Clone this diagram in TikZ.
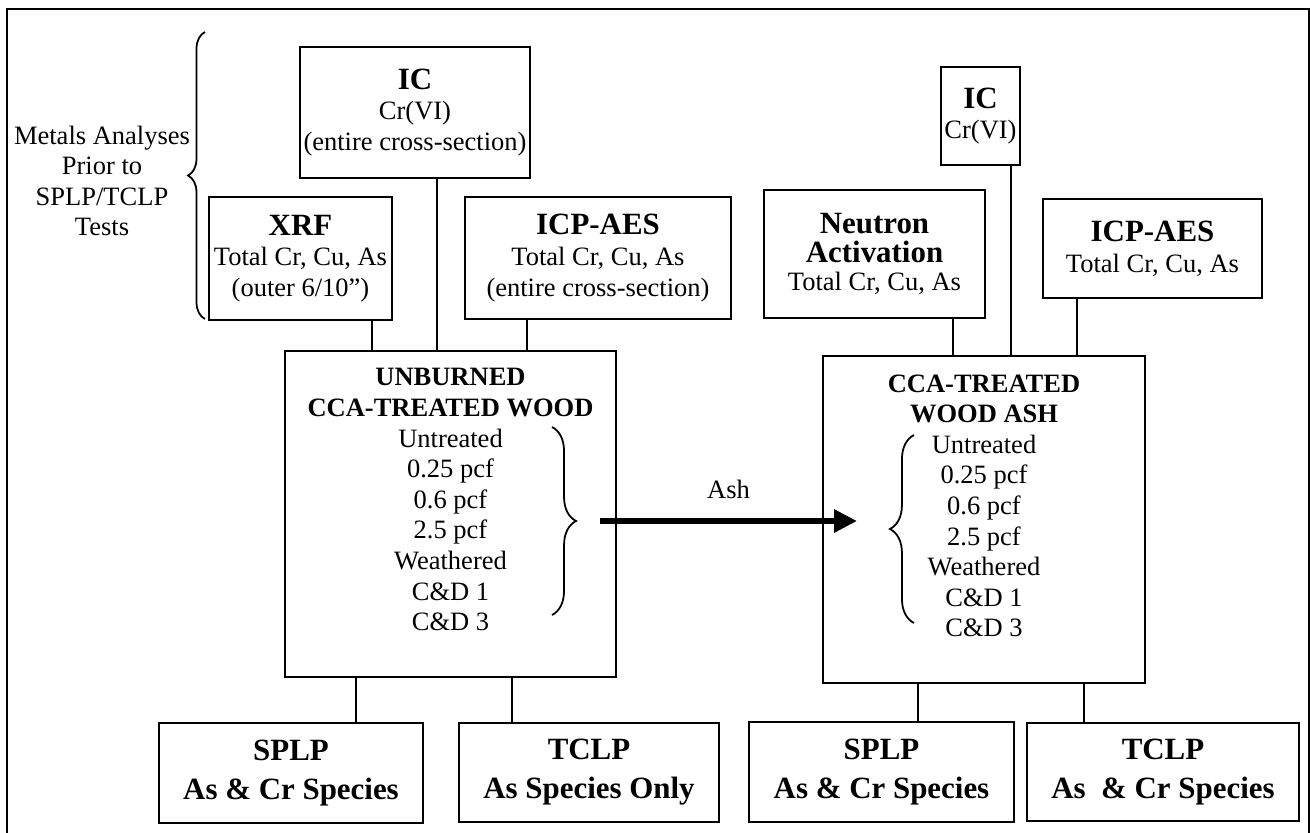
\documentclass[tikz,border=0pt]{standalone}
\usepackage{fontspec}
\setmainfont{Liberation Serif}
\usetikzlibrary{arrows.meta, decorations.pathreplacing}

% one unit = one pixel of the layout grid
\newcommand{\pxl}{0.4528pt}
\newcommand{\boxhead}[1]{{\fontsize{14}{16}\selectfont\bfseries #1}}

\begin{document}
\begin{tikzpicture}[x=\pxl, y=-\pxl, >={Triangle[length=10.4pt, width=10pt]},
    every node/.style={font=\fontsize{12}{13.86}\selectfont, align=center, inner sep=0pt},
    testbox/.style={draw, line width=0.9pt},
    wh/.style 2 args={minimum width=#1*\pxl, minimum height=#2*\pxl},
    leachbox/.style={testbox, font=\fontsize{14}{17.7}\selectfont\bfseries},
    wire/.style={line width=0.75pt},
    curly/.style={decorate, decoration={brace, amplitude=#1}, line width=0.8pt}]
    \useasboundingbox (0,0) rectangle (1310,832);
    \draw[line width=0.9pt] (7,9) rectangle (1309,845);

    % metals analyses before leaching
    \node (metals) at (102,181) {Metals Analyses\\Prior to\\SPLP/TCLP\\Tests};
    \draw[curly=7.7pt] (205,319) -- (205,32);

    \node[testbox, wh={230}{131}] (icA) at (415,112.5) {\boxhead{IC}\\Cr(VI)\\(entire cross-section)};
    \node[testbox, wh={183}{123}] (xrf) at (300.5,258.5) {\boxhead{XRF}\\Total Cr, Cu, As\\(outer 6/10”)};
    \node[testbox, wh={266}{122}] (icpA) at (598,258) {\boxhead{ICP-AES}\\Total Cr, Cu, As\\(entire cross-section)};

    \node[testbox, wh={221}{128}, font=\fontsize{12}{13}\selectfont] (neutron) at (874.5,254) {\boxhead{Neutron}\\\boxhead{Activation}\\Total Cr, Cu, As};
    \node[testbox, wh={79}{98}] (icB) at (980.5,116) {\boxhead{IC}\\Cr(VI)};
    \node[testbox, wh={219}{99}] (icpB) at (1152.5,248.5) {\boxhead{ICP-AES}\\Total Cr, Cu, As};

    % wood before and after burning
    \node[testbox, wh={331}{326}] (wood) at (450.5,514) {\textbf{UNBURNED}\\\textbf{CCA-TREATED WOOD}\\Untreated\\0.25 pcf\\0.6 pcf\\2.5 pcf\\Weathered\\C\&D 1\\C\&D 3\rule[-13pt]{0pt}{13pt}};
    \node[testbox, wh={322}{327}] (ash) at (984,519.5) {\textbf{CCA-TREATED}\\\textbf{WOOD ASH}\\Untreated\\0.25 pcf\\0.6 pcf\\2.5 pcf\\Weathered\\C\&D 1\\C\&D 3\rule[-12.5pt]{0pt}{12.5pt}};
    \draw[curly=10.9pt] (552,427) -- (552,615);
    \draw[curly=10.9pt] (914,623) -- (914,435);

    \coordinate (burnA) at (600,521);
    \coordinate (burnB) at (857,521);
    \draw[->, line width=2.7pt] (burnA) -- node[above=8.6pt] (ashlbl) {Ash} (burnB);

    % leaching tests
    \node[leachbox, wh={264}{100}] (splpA) at (291,773) {SPLP\\As \& Cr Species};
    \node[leachbox, wh={260}{99}] (tclpA) at (589,772.5) {TCLP\\As Species Only};
    \node[leachbox, wh={265}{100}] (splpB) at (881.5,772) {SPLP\\As \& Cr Species};
    \node[leachbox, wh={272}{98}] (tclpB) at (1163,772) {TCLP\\As~\ \& Cr Species};

    \foreach \a/\b/\x in {xrf/wood/372, icA/wood/437, icpA/wood/527,
        neutron/ash/953, icB/ash/1011, icpB/ash/1077,
        wood/splpA/356, wood/tclpA/512, ash/splpB/918, ash/tclpB/1084}
        \draw[wire] (\a.south -| \x,0) -- (\b.north -| \x,0);
\end{tikzpicture}
\end{document}
